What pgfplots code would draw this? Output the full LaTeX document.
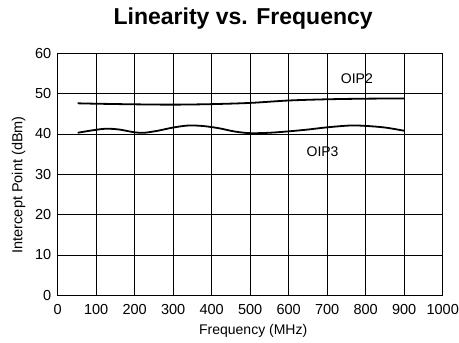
\documentclass[border=0pt]{standalone}
\usepackage{fontspec}
\setmainfont{Liberation Sans}
\usepackage{pgfplots}
\pgfplotsset{compat=1.18}
\begin{document}
\begin{tikzpicture}
\begin{axis}[
  scale only axis,
  width=385pt, height=242pt,
  xmin=0, xmax=1000, ymin=0, ymax=60,
  xtick={0,100,...,1000}, ytick={0,10,...,60},
  grid=major,
  major grid style={black, line width=0.8pt},
  axis line style={black, line width=1.1pt},
  major tick length=0pt,
  tick style={draw=none},
  /pgf/number format/assume math mode=true,
  /pgf/number format/1000 sep={},
  ticklabel style={font=\fontsize{14.5}{16}\selectfont},
  xticklabel style={yshift=-6pt},
  yticklabel style={xshift=-3pt},
  xlabel={Frequency (MHz)},
  ylabel={Intercept Point (dBm)},
  xlabel style={font=\fontsize{14}{16}\selectfont, at={(rel axis cs:0.5,0)}, anchor=center, yshift=-36pt, xshift=3pt},
  ylabel style={font=\fontsize{14.5}{16}\selectfont, at={(rel axis cs:0,0.5)}, anchor=center, yshift=39pt, xshift=-10.5pt},
  title={Linearity vs. Frequency},
  title style={font=\fontsize{23}{26}\selectfont\bfseries, at={(rel axis cs:0.5,1)}, anchor=center, yshift=28.5pt, xshift=-7pt},
  clip=false,
]
\addplot[black, line width=1.8pt, smooth] coordinates {
 (52,47.6) (100,47.5) (200,47.35) (300,47.27) (400,47.4) (500,47.7) (600,48.3) (700,48.6) (800,48.75) (900,48.8)
};
\addplot[black, line width=1.8pt, smooth] coordinates {
 (52,40.3) (90,40.9) (125,41.3) (160,41.1) (200,40.4) (225,40.3) (260,40.8) (300,41.6) (340,42.1) (380,41.95) (420,41.4) (460,40.6) (500,40.2) (550,40.3) (600,40.65) (650,41.1) (700,41.65) (760,42.1) (800,42.0) (850,41.6) (900,40.8)
};
\node[font=\fontsize{14}{16}\selectfont] at (axis cs:777,53.6) {OIP2};
\node[font=\fontsize{14}{16}\selectfont] at (axis cs:688,35.6) {OIP3};
\end{axis}
\pgfresetboundingbox
\path ([xshift=-57.7pt,yshift=-47.7pt]current axis.south west) rectangle ++(459pt,343pt);
\end{tikzpicture}
\end{document}
